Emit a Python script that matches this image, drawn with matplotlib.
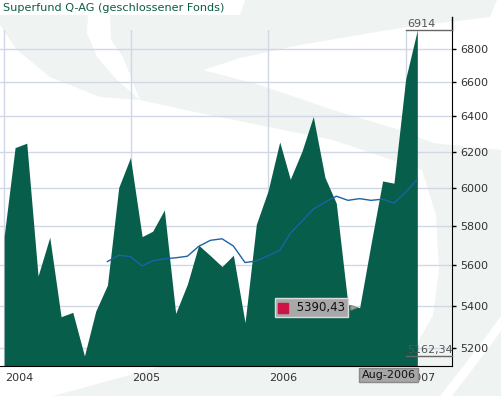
import matplotlib
matplotlib.use("Agg")
from matplotlib import pyplot as plt
from matplotlib.patches import Polygon
from matplotlib.ticker import FixedLocator, FixedFormatter, NullLocator
import matplotlib.transforms as mtransforms
import pandas as pd

# month-end values, Jan 2004 .. Jan 2007
months = pd.date_range("2004-01-31", "2007-01-31", freq="ME")
values = [
    5747, 6222, 6247, 5546, 5742, 5347, 5368, 5162.34, 5374, 5501, 6004, 6167,
    5745, 5773, 5884, 5363, 5505, 5701, 5648, 5593, 5650, 5319, 5809, 5985,
    6254, 6048, 6202, 6398, 6058, 5920, 5407, 5390.43, 5706, 6039, 6027, 6616,
    6914,
]

# blue average line, starts Oct 2004
avg_months = months[9:]
avg_values = [
    5618, 5650, 5643,
    5596, 5622, 5632, 5637, 5645, 5695, 5726, 5734, 5697, 5613, 5621, 5647,
    5675, 5762, 5825, 5888, 5925, 5957, 5935, 5944, 5935, 5941, 5920, 5978,
    6048,
]

yticks = [5200, 5400, 5600, 5800, 6000, 6200, 6400, 6600, 6800]
xticks = [months[0], pd.Timestamp("2005-01-01"), pd.Timestamp("2006-01-01"),
          pd.Timestamp("2007-01-01")]
xlabels = ["2004", "2005", "2006", "2007"]

green = "#075e4a"
grey_wm = "#eff3f1"

W, H = 501, 396
fig = plt.figure(figsize=(W / 100, H / 100), dpi=100)
fig.patch.set_facecolor("white")


def px(pts):
    return [(x / W, 1 - y / H) for x, y in pts]


# faint logo watermark in the background
crescent = [(0, 15), (88, 15), (87, 33), (97, 57), (117, 80), (140, 100),
            (100, 97), (50, 77), (17, 50), (0, 25)]
swoosh = [(110, 15), (240, 15), (245, 0), (497, 0), (490, 17), (400, 28),
          (300, 45), (240, 58), (203, 70), (260, 85), (333, 110), (400, 130),
          (433, 143), (470, 147), (501, 150), (501, 396), (53, 396),
          (163, 366), (395, 366), (418, 342), (433, 315), (439, 270),
          (436, 215), (422, 170), (333, 140), (200, 113), (140, 100),
          (123, 57), (111, 40)]
arc = [(501, 316), (482, 342), (462, 368), (440, 396), (452, 396),
       (472, 370), (490, 346), (501, 331)]
for shape, col in [(crescent, grey_wm), (swoosh, grey_wm), (arc, "white")]:
    fig.patches.append(Polygon(px(shape), closed=True, transform=fig.transFigure,
                               fc=col, ec="none", zorder=-1))

ax = fig.add_axes([0, (H - 366) / H, 452 / W, (366 - 30) / H])
ax.set_facecolor("none")
ax.set_yscale("log")
ymin, ymax = 5116, 6914
x_left, x_right = pd.Timestamp("2004-01-20"), pd.Timestamp("2007-05-03")
ax.set_ylim(ymin, ymax)
ax.set_xlim(x_left, x_right)

ax.fill_between(months, values, ymin, color=green, lw=0, zorder=2)
ax.plot(avg_months, avg_values, color="#1a64a6", lw=1, zorder=3)

ax.yaxis.set_major_locator(FixedLocator(yticks))
ax.yaxis.set_major_formatter(FixedFormatter([str(v) for v in yticks]))
ax.yaxis.set_minor_locator(NullLocator())
ax.yaxis.set_minor_formatter(FixedFormatter([]))
ax.yaxis.tick_right()
ax.tick_params(axis="y", length=3, width=1, color="black", pad=3,
               labelsize=8, labelcolor="#333333")

ax.set_xticks(xticks)
ax.set_xticklabels(xlabels)
ax.tick_params(axis="x", length=0, pad=5, labelsize=8, labelcolor="#333333")
shift = mtransforms.ScaledTranslation(1 / 100, 0, fig.dpi_scale_trans)
for lab in ax.get_xticklabels():
    lab.set_horizontalalignment("left")
    lab.set_transform(lab.get_transform() + shift)

ax.grid(True, color="#d2d7e8", lw=1)
ax.set_axisbelow(True)

for s in ["left", "top"]:
    ax.spines[s].set_visible(False)
ax.spines["bottom"].set_color("black")
ax.spines["right"].set_color("black")
ax.plot([1, 1], [1, 1 + 13 / 336], transform=ax.transAxes, color="black",
        lw=1, clip_on=False)

# max / min markers on the right
x_end = pd.Timestamp("2007-01-01")
for val, txt in [(max(values), "6914"), (min(values), "5162,34")]:
    ax.plot([x_end, x_right], [val, val], color="#666666", lw=1, clip_on=False,
            zorder=4)
    ax.annotate(txt, xy=(x_end, val), xytext=(1, 1), textcoords="offset pixels",
                ha="left", va="bottom", fontsize=8, color="#555555",
                annotation_clip=False, zorder=4)

# tooltip on the Aug 2006 low
aug = months[31]
aug_val = values[31]
ax.annotate("     5390,43", xy=(aug, aug_val), xytext=(-15, 0),
            textcoords="offset pixels", ha="right", va="center",
            fontsize=8.5, color="#111111", zorder=6,
            bbox=dict(boxstyle="square,pad=0.25", fc="#a8a8a8", ec="#dcdcdc", lw=1),
            arrowprops=dict(arrowstyle="wedge,tail_width=0.4,shrink_factor=0.5",
                            fc="#a8a8a8", ec="#888888", lw=0.8))
sq = ax.transData + mtransforms.ScaledTranslation(-77 / 100, 0, fig.dpi_scale_trans)
ax.plot([aug], [aug_val], marker="s", ms=7.2, color="#cc1448", mec="#cc1448",
        transform=sq, zorder=7, clip_on=False)

ax.annotate("Aug-2006", xy=(aug, 0), xycoords=("data", "axes fraction"),
            xytext=(2, -4), textcoords="offset pixels", ha="left", va="top",
            fontsize=8, color="#111111", zorder=8, annotation_clip=False,
            bbox=dict(boxstyle="square,pad=0.2", fc="#a6a6a6", ec="#8a8a8a", lw=1))

fig.text(3 / W, 1 - 8 / H, "Superfund Q-AG (geschlossener Fonds)", ha="left",
         va="center", fontsize=8.1, color="#0b5c46")

fig.savefig("out.png", dpi=100)
